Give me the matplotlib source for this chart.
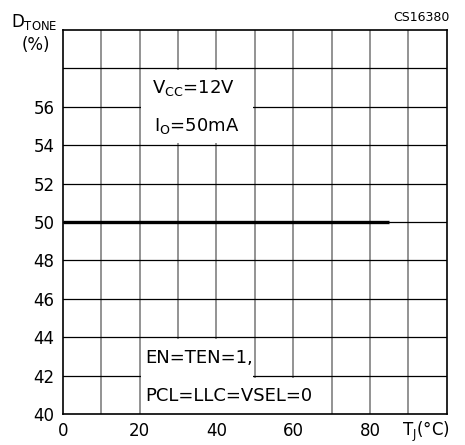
import numpy as np
import matplotlib.pyplot as plt
from matplotlib.patches import Rectangle

# duty cycle of tone vs junction temperature
tj = [0, 85]
d_tone = [50, 50]

x_ticks = [0, 20, 40, 60, 80]
y_ticks = [40, 42, 44, 46, 48, 50, 52, 54, 56]
x_grid = np.arange(0, 101, 10)
y_grid = np.arange(40, 61, 2)

fig = plt.figure(figsize=(4.65, 4.45), dpi=100)
ax = fig.add_axes([0.1355, 0.0697, 0.825, 0.863])

ax.set_xlim(0, 100)
ax.set_ylim(40, 60)

#-------- grid: vertical gray, horizontal black --------
for xv in x_grid[1:-1]:
    ax.axvline(xv, color='#808080', lw=1.2, zorder=0.5)
for yv in y_grid[1:-1]:
    ax.axhline(yv, color='black', lw=0.9, zorder=0.5)

#-------- white boxes behind annotations (hide inner grid lines) --------
ax.add_patch(Rectangle((20.35, 54.1), 29.3, 3.8, fc='white', ec='none', zorder=1))
ax.add_patch(Rectangle((20.35, 41.8), 29.3, 2.1, fc='white', ec='none', zorder=1))
ax.add_patch(Rectangle((20.35, 40.0), 49.3, 1.9, fc='white', ec='none', zorder=1))

ax.plot(tj, d_tone, color='black', lw=2.4, solid_capstyle='butt', zorder=3)

ax.set_xticks(x_ticks)
ax.set_yticks(y_ticks)
ax.tick_params(length=0, labelsize=12, pad=6)
for s in ax.spines.values():
    s.set_linewidth(1.2)
    s.set_zorder(4)

ax.text(23.2, 57.0, r'V$_{\rm CC}$=12V', fontsize=13, va='center', zorder=2)
ax.text(23.8, 55.0, r'I$_{\rm O}$=50mA', fontsize=13, va='center', zorder=2)
ax.text(21.5, 42.9, 'EN=TEN=1,', fontsize=13, va='center', zorder=2)
ax.text(21.5, 40.95, 'PCL=LLC=VSEL=0', fontsize=13, va='center', zorder=2)

# T_J label sits on the tick label baseline
xl = ax.get_xticklabels()[0]
ax.text(94.5, -0.058, r'T$_{\rm J}$(°C)', transform=ax.get_xaxis_transform(),
        fontsize=12, ha='center', va='baseline')
fig.text(0.073, 0.95, r'D$_{\rm TONE}$', fontsize=12, ha='center', va='center')
fig.text(0.078, 0.898, '(%)', fontsize=12, ha='center', va='center')
fig.text(0.968, 0.96, 'CS16380', fontsize=9, ha='right', va='center')

fig.savefig('out.png', dpi=100)
